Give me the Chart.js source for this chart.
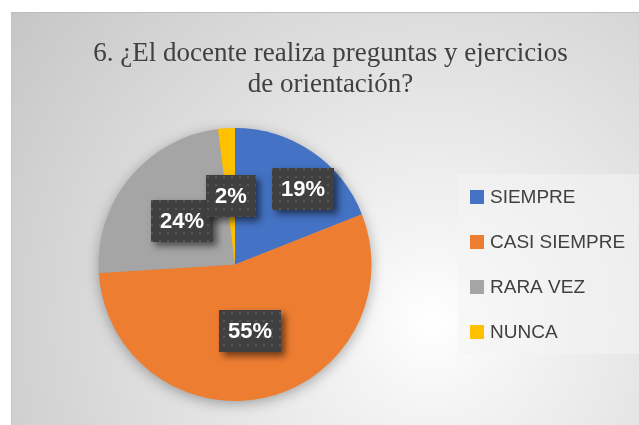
<!DOCTYPE html>
<html lang="es">
<head>
<meta charset="utf-8">
<title>Pregunta 6</title>
<script src="https://cdn.jsdelivr.net/npm/chart.js@4.4.1/dist/chart.umd.min.js"></script>
<style>
  html, body { margin: 0; padding: 0; background: #fff; }
  body { width: 639px; height: 425px; position: relative; overflow: hidden; }
  #marco {
    position: absolute; left: 11px; top: 12px; width: 628px; height: 413px;
    background: radial-gradient(circle farthest-corner at 67% 75%, #ffffff 0%, #f3f3f3 18%, #c6c6c6 100%);
    border-top: 1px solid #bdbdbd; border-left: 1px solid #c4c4c4;
    box-sizing: border-box;
  }
  #grafico { position: absolute; left: 0; top: 0; }
</style>
</head>
<body>
<div id="marco"><canvas id="grafico" width="627" height="412"></canvas></div>
<script>
// datos
const categorias = ['SIEMPRE', 'CASI SIEMPRE', 'RARA VEZ', 'NUNCA'];
const porcentajes = [19, 55, 24, 2];
const colores = ['#4472C4', '#ED7D31', '#A5A5A5', '#FFC000'];
const titulo = ['6. ¿El docente realiza preguntas y ejercicios', 'de orientación?'];

// ubicación de las etiquetas: fracción del radio y giro extra (grados)
const radioEtiqueta = [0.745, 0.5, 0.5, 0.5];
const giroEtiqueta = [7.6, 0, 0, 0];

// patrón de puntitos para las cajas de las etiquetas
function crearPatron(ctx) {
  const c = document.createElement('canvas');
  c.width = 8; c.height = 8;
  const p = c.getContext('2d');
  p.fillStyle = '#404040';
  p.fillRect(0, 0, 8, 8);
  p.fillStyle = '#555555';
  p.fillRect(3, 3, 2, 2);
  return ctx.createPattern(c, 'repeat');
}

// el pastel va a la izquierda, la leyenda se dibuja aparte a la derecha
const areaPie = {
  id: 'areaPie',
  afterLayout(chart) {
    const a = chart.chartArea;
    a.left = 86; a.right = 360; a.top = 115; a.bottom = 388;
    a.width = a.right - a.left; a.height = a.bottom - a.top;
  }
};

const sombraPie = {
  id: 'sombraPie',
  beforeDatasetsDraw(chart) {
    const arc = chart.getDatasetMeta(0).data[0];
    if (!arc) return;
    const { x, y, outerRadius } = arc.getProps(['x', 'y', 'outerRadius'], true);
    const ctx = chart.ctx;
    ctx.save();
    ctx.shadowColor = 'rgba(0,0,0,0.35)';
    ctx.shadowBlur = 14;
    ctx.shadowOffsetY = 3;
    ctx.fillStyle = '#999';
    ctx.beginPath();
    ctx.arc(x, y, outerRadius - 1, 0, Math.PI * 2);
    ctx.fill();
    ctx.restore();
  }
};

const etiquetasPie = {
  id: 'etiquetasPie',
  afterDatasetsDraw(chart) {
    const ctx = chart.ctx;
    const patron = crearPatron(ctx);
    const meta = chart.getDatasetMeta(0);
    ctx.save();
    ctx.font = 'bold 22px "Liberation Sans", Arial, sans-serif';
    ctx.textAlign = 'center';
    ctx.textBaseline = 'middle';
    meta.data.forEach((arc, i) => {
      const { x, y, startAngle, endAngle, outerRadius } =
        arc.getProps(['x', 'y', 'startAngle', 'endAngle', 'outerRadius'], true);
      const ang = (startAngle + endAngle) / 2 + giroEtiqueta[i] * Math.PI / 180;
      const d = outerRadius * radioEtiqueta[i];
      const cx = x + Math.cos(ang) * d;
      const cy = y + Math.sin(ang) * d;
      const texto = porcentajes[i] + '%';
      const w = Math.round(ctx.measureText(texto).width + 18);
      const h = 42;
      const bx = Math.round(cx - w / 2), by = Math.round(cy - h / 2);
      ctx.save();
      ctx.shadowColor = 'rgba(0,0,0,0.55)';
      ctx.shadowBlur = 7;
      ctx.shadowOffsetX = 4;
      ctx.shadowOffsetY = 4;
      ctx.fillStyle = '#404040';
      ctx.fillRect(bx, by, w, h);
      ctx.restore();
      ctx.fillStyle = patron;
      ctx.fillRect(bx, by, w, h);
      ctx.fillStyle = '#ffffff';
      ctx.fillText(texto, bx + w / 2, by + h / 2 + 1);
    });
    ctx.restore();
  }
};

const leyenda = {
  id: 'leyenda',
  afterDraw(chart) {
    const ctx = chart.ctx;
    ctx.save();
    ctx.fillStyle = 'rgba(244,244,244,0.55)';
    ctx.fillRect(446, 161, 181, 180);
    ctx.font = '19px "Liberation Sans", Arial, sans-serif';
    ctx.textBaseline = 'middle';
    ctx.textAlign = 'left';
    categorias.forEach((cat, i) => {
      const cy = 184 + i * 45;
      ctx.fillStyle = colores[i];
      ctx.fillRect(458, cy - 7, 14, 14);
      ctx.fillStyle = '#404040';
      ctx.fillText(cat, 478, cy + 1);
    });
    ctx.restore();
  }
};

new Chart(document.getElementById('grafico'), {
  type: 'pie',
  data: {
    labels: categorias,
    datasets: [{ data: porcentajes, backgroundColor: colores, borderWidth: 0 }]
  },
  options: {
    responsive: false,
    animation: false,
    layout: { padding: { left: 10 } },
    plugins: {
      legend: { display: false },
      tooltip: { enabled: false },
      title: {
        display: true,
        text: titulo,
        color: '#404040',
        font: { family: '"Liberation Serif", "Times New Roman", serif', size: 27, weight: 'normal', lineHeight: 1.15 },
        padding: { top: 25, bottom: 20 }
      }
    }
  },
  plugins: [areaPie, sombraPie, etiquetasPie, leyenda]
});
</script>
</body>
</html>
